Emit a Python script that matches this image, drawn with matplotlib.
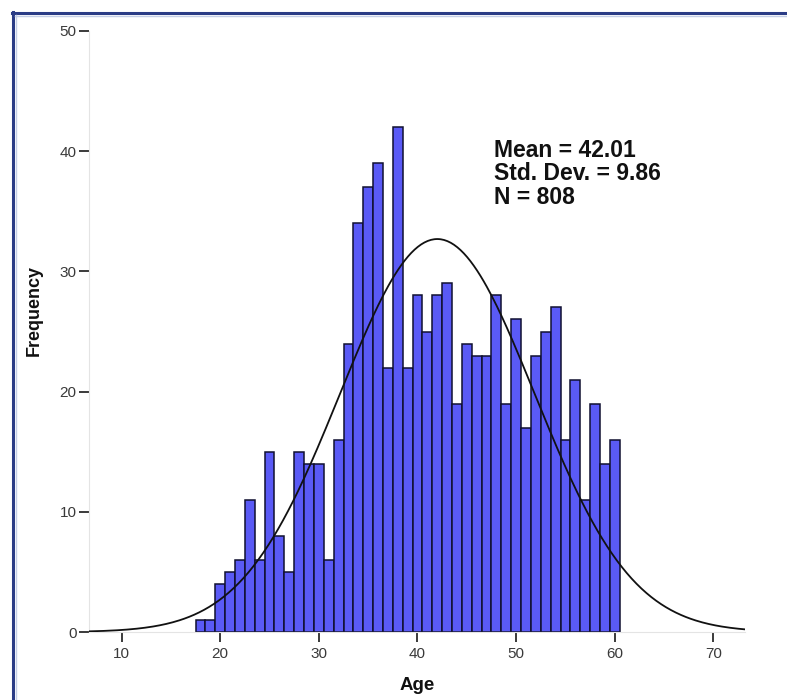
import numpy as np
import matplotlib
matplotlib.use('Agg')
import matplotlib.pyplot as plt
from matplotlib.lines import Line2D

# Age histogram (bin width 1, centred on whole years)
ages = list(range(18, 61))
counts = [1, 1, 4, 5, 6, 11, 6, 15, 8, 5,
          15, 14, 14, 6, 16, 24, 34, 37, 39, 22,
          42, 22, 28, 25, 28, 29, 19, 24, 23, 23,
          28, 19, 26, 17, 23, 25, 27, 16, 21, 11,
          19, 14, 16]
mean_age = 42.01
sd_age = 9.86
n_total = 808

x_ticks = [10, 20, 30, 40, 50, 60, 70]
y_ticks = [0, 10, 20, 30, 40, 50]

plt.rcParams['font.family'] = ['Liberation Sans', 'DejaVu Sans']

fig = plt.figure(figsize=(7.87, 7.00), dpi=100)
W, H = 787, 700
ax = fig.add_axes([89 / W, 1 - 632 / H, (745 - 89) / W, (632 - 31) / H])

ax.bar(ages, counts, width=1.0, color='#5A5AF6', edgecolor='#101030',
       linewidth=1.1, zorder=2)

# normal curve scaled to counts
xs = np.linspace(6.7, 73.2, 400)
ys = n_total * 1.0 / (sd_age * np.sqrt(2 * np.pi)) * np.exp(-0.5 * ((xs - mean_age) / sd_age) ** 2)
ax.plot(xs, ys, color='#111111', linewidth=1.3, zorder=3)

ax.set_xlim(6.7, 73.2)
ax.set_ylim(0, 50)
ax.set_xticks(x_ticks)
ax.set_yticks(y_ticks)
ax.tick_params(axis='both', colors='#3A3A3A', labelsize=11, length=7, width=1.4)
ax.tick_params(axis='x', pad=4)
ax.tick_params(axis='y', pad=2)
for s in ['top', 'right']:
    ax.spines[s].set_visible(False)
for s in ['left', 'bottom']:
    ax.spines[s].set_color('#E4E4E4')
    ax.spines[s].set_linewidth(0.8)

fig.text(417 / W, 1 - 686 / H, 'Age', ha='center', va='center',
         fontsize=13.5, fontweight='bold', color='#111111')
fig.text(34 / W, 1 - 310 / H, 'Frequency', ha='center', va='center',
         rotation=90, fontsize=13, fontweight='bold', color='#111111')

stats = 'Mean = %.2f\nStd. Dev. = %.2f\nN = %d' % (mean_age, sd_age, n_total)
fig.text(494 / W, 1 - 139 / H, stats, ha='left', va='top', fontsize=16.5,
         fontweight='bold', color='#111111', linespacing=1.02)

# dark blue frame around the chart (left and top edges)
fig.add_artist(Line2D([13 / W, 13 / W], [0, 1 - 12 / H], color='#2B3C86', linewidth=2.2))
fig.add_artist(Line2D([12 / W, 1], [1 - 13 / H, 1 - 13 / H], color='#2B3C86', linewidth=2.2))
fig.add_artist(Line2D([16 / W, 16 / W], [0, 1 - 15 / H], color='#C4CEE6', linewidth=1.0))
fig.add_artist(Line2D([15 / W, 1], [1 - 16 / H, 1 - 16 / H], color='#C4CEE6', linewidth=1.0))

fig.savefig('out.png', dpi=100)
